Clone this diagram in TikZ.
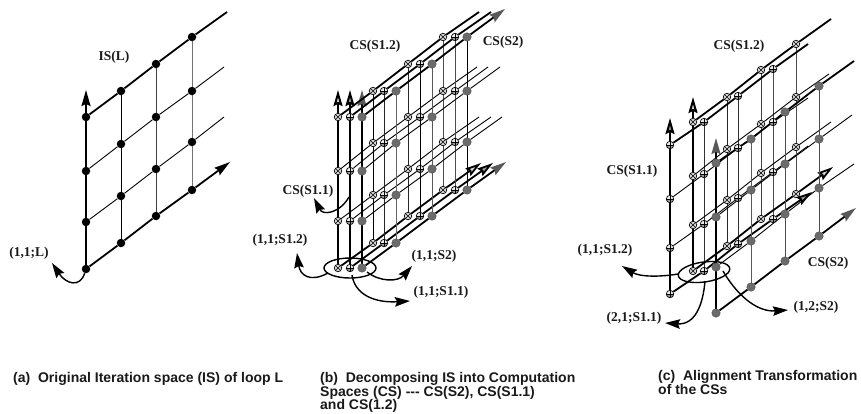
\documentclass[tikz,border=0pt]{standalone}
\usepackage{fontspec}
\setmainfont{Liberation Serif}
\newfontfamily\capfont{Liberation Sans}
\usetikzlibrary{arrows.meta,shapes.geometric}
\pgfdeclarelayer{bg}
\pgfsetlayers{bg,main}
\definecolor{greymark}{gray}{0.42}
\tikzset{
  basemark/.style={circle,inner sep=0pt,minimum size=7.5bp,line width=0.7bp,draw=black},
  solidmark/.style={circle,inner sep=0pt,minimum size=8.5bp,fill=black},
  crossmark/.style={basemark,fill=black!15,path picture={
    \draw[line width=0.5bp] (path picture bounding box.north west)--(path picture bounding box.south east)
      (path picture bounding box.north east)--(path picture bounding box.south west);}},
  platemark/.style={basemark,fill=black!8,path picture={
    \fill[black!40] (path picture bounding box.west) rectangle (path picture bounding box.south east);
    \draw[line width=0.5bp] (path picture bounding box.west)--(path picture bounding box.east)
      (path picture bounding box.north)--(path picture bounding box.south);}},
  greyfill/.style={circle,inner sep=0pt,minimum size=8.5bp,fill=greymark,draw=black!70,line width=0.4bp},
  thickline/.style={line width=1.8bp,black},
  thinline/.style={line width=0.9bp,black},
  columnline/.style={line width=1bp},
  axisline/.style={line width=2bp,black},
  tipblack/.style={-{Stealth[length=16bp,width=9bp,inset=2bp,fill=black]}},
  tipwhite/.style={-{Stealth[length=16bp,width=9bp,inset=2bp,fill=black!15]}},
  tipmid/.style={-{Stealth[length=16bp,width=9bp,inset=2bp,fill=black!40]}},
  tipgrey/.style={-{Stealth[length=16bp,width=9bp,inset=2bp,color=black!65,fill=black!65]}},
  curvearrow/.style={line width=1.4bp,black,-{Stealth[length=15bp,width=9.5bp,inset=2bp,fill=black]}},
  lab/.style={font=\fontsize{13.5bp}{15bp}\selectfont\bfseries,inner sep=0pt,text=black!90},
  caption/.style={font=\fontsize{14bp}{13.8bp}\capfont\bfseries,inner sep=0pt,align=left,anchor=north west,text=black!90},
  ring/.style={ellipse,draw=black,line width=1.4bp,minimum width=52bp,minimum height=20bp,inner sep=0pt},
}
% #1 prefix, #2 mark style, #3 list col/x/y0/y1/y2/y3
\newcommand\latmarks[3]{%
  \foreach \c/\x/\ya/\yb/\yd/\ye in {#3}{%
    \node[#2] (#1-\c-0) at (\x,\ya) {};
    \node[#2] (#1-\c-1) at (\x,\yb) {};
    \node[#2] (#1-\c-2) at (\x,\yd) {};
    \node[#2] (#1-\c-3) at (\x,\ye) {};
  }}
% #1 prefix, #2 col1 colour, #3 col2 colour, #4 col3 colour, #5 tip style
\newcommand\latlines[5]{%
  \begin{pgfonlayer}{bg}
  \draw[columnline,#2] (#1-1-0)--(#1-1-1)--(#1-1-2)--(#1-1-3);
  \draw[columnline,#3] (#1-2-0)--(#1-2-1)--(#1-2-2)--(#1-2-3);
  \draw[columnline,#4] (#1-3-0)--(#1-3-1)--(#1-3-2)--(#1-3-3);
  \draw[axisline] (#1-0-0)--(#1-0-1)--(#1-0-2)--(#1-0-3);
  \draw[axisline,#5] (#1-0-0)--(#1-up);
  \draw[thinline] (#1-0-1)--(#1-1-1)--(#1-2-1)--(#1-3-1)--(#1-e1);
  \draw[thinline] (#1-0-2)--(#1-1-2)--(#1-2-2)--(#1-3-2)--(#1-e2);
  \draw[thickline,#5] (#1-0-3)--(#1-1-3)--(#1-2-3)--(#1-3-3)--(#1-e3);
  \end{pgfonlayer}}
\begin{document}
\begin{tikzpicture}[x=1bp,y=-1bp]
\useasboundingbox (0,0) rectangle (861,413);
% ---------- panel a
\latmarks{a}{solidmark}{0/86/117/171/222/269,1/121/91/144/196/243,2/156/64/117/169/216,3/192/37/91/142/190}
\coordinate (a-up) at (86,90);
\coordinate (a-e0) at (227,12);
\coordinate (a-e1) at (224,67);
\coordinate (a-e2) at (224,117);
\coordinate (a-e3) at (230,162);
\latlines{a}{black}{black!75}{black!55}{tipblack}
\begin{pgfonlayer}{bg}
\draw[thickline] (a-0-0)--(a-1-0)--(a-2-0)--(a-3-0)--(a-e0);
\end{pgfonlayer}
\node[lab] (isl) at (114,57) {IS(L)};
\node[lab] (la) at (29,253) {(1,1;L)};
\coordinate (a-tip) at (52,263);
\draw[curvearrow] (a-0-3) .. controls (80,288) and (66,284) .. (a-tip);
% ---------- panel b
\latmarks{ba}{crossmark}{0/338/117/171/221/268,1/373/91/143/195/243,2/408/64/117/169/216,3/443/37/91/142/190}
\latmarks{bb}{platemark}{0/350/117/171/221/268,1/384/91/143/195/243,2/420/64/117/169/216,3/455/37/91/142/190}
\latmarks{bc}{greyfill}{0/362/117/171/221/268,1/396/91/143/195/243,2/432/64/117/169/216,3/467/37/91/142/190}
\coordinate (ba-up) at (338,90); \coordinate (bb-up) at (350,90); \coordinate (bc-up) at (362,90);
\coordinate (ba-e0) at (479,12); \coordinate (bb-e0) at (491,12); \coordinate (bc-e0) at (505,9);
\coordinate (ba-e1) at (477,67); \coordinate (bb-e1) at (488,67); \coordinate (bc-e1) at (500,67);
\coordinate (ba-e2) at (479,117); \coordinate (bb-e2) at (491,117); \coordinate (bc-e2) at (502,117);
\coordinate (ba-e3) at (481,163); \coordinate (bb-e3) at (493,163); \coordinate (bc-e3) at (506,162);
\latlines{ba}{black}{black!85}{black!70}{tipwhite}
\latlines{bb}{black!85}{black}{black!70}{tipmid}
\latlines{bc}{black!60}{black!65}{black}{tipgrey}
\begin{pgfonlayer}{bg}
\draw[thickline] (ba-0-0)--(ba-1-0)--(ba-2-0)--(ba-3-0)--(ba-e0);
\draw[thickline] (bb-0-0)--(bb-1-0)--(bb-2-0)--(bb-3-0)--(bb-e0);
\draw[thickline,tipgrey] (bc-0-0)--(bc-1-0)--(bc-2-0)--(bc-3-0)--(bc-e0);
\end{pgfonlayer}
\node[ring] (bring) at (350,268) {};
\node[lab] (bl12) at (375,46) {CS(S1.2)};
\node[lab] (bl2) at (503,42) {CS(S2)};
\node[lab] (bl11) at (308,191) {CS(S1.1)};
\node[lab] (bp12) at (280,240) {(1,1;S1.2)};
\node[lab] (bp2) at (434,256) {(1,1;S2)};
\node[lab] (bp11) at (441,292) {(1,1;S1.1)};
\coordinate (bs1) at (349,197); \coordinate (bt1) at (314,198);
\coordinate (bs2) at (328,273); \coordinate (bt2) at (297,253);
\coordinate (bs3) at (367,272); \coordinate (bt3) at (412,266);
\coordinate (bs4) at (352,275); \coordinate (bt4) at (410,301);
\draw[curvearrow] (bs1) .. controls (340,213) and (323,216) .. (bt1);
\draw[curvearrow] (bs2) .. controls (310,283) and (300,275) .. (bt2);
\draw[curvearrow] (bs3) .. controls (380,282) and (398,282) .. (bt3);
\draw[curvearrow] (bs4) .. controls (355,295) and (375,303) .. (bt4);
% ---------- panel c
\latmarks{cb}{platemark}{0/670/145/199/248/294,1/704/122/174/224/271,2/738/96/148/198/244,3/773/69/122/172/219}
\latmarks{ca}{crossmark}{0/693/122/176/225/271,1/727/97/149/200/246,2/761/70/124/173/219,3/796/44/97/147/194}
\latmarks{cc}{greyfill}{0/716/163/217/267/313,1/751/139/190/241/287,2/785/112/164/214/261,3/819/86/139/188/236}
\coordinate (cb-up) at (670,118); \coordinate (ca-up) at (693,97); \coordinate (cc-up) at (716,138);
\coordinate (ca-e0) at (831,19); \coordinate (cb-e0) at (808,44); \coordinate (cc-e0) at (854,61);
\coordinate (ca-e1) at (829,74); \coordinate (cb-e1) at (808,98); \coordinate (cc-e1) at (852,115);
\coordinate (ca-e2) at (831,122); \coordinate (cb-e2) at (808,146); \coordinate (cc-e2) at (854,164);
\coordinate (ca-e3) at (833,167); \coordinate (cb-e3) at (812,192); \coordinate (cc-e3) at (856,208);
\latlines{cb}{black!80}{black!80}{black!70}{tipmid}
\latlines{ca}{black!85}{black!75}{black!70}{tipwhite}
\latlines{cc}{black!65}{black!70}{black!70}{tipgrey}
\begin{pgfonlayer}{bg}
\draw[thickline] (ca-0-0)--(ca-1-0)--(ca-2-0)--(ca-3-0)--(ca-e0);
\draw[thickline] (cb-0-0)--(cb-1-0)--(cb-2-0)--(cb-3-0)--(cb-e0);
\draw[thickline] (cc-0-0)--(cc-1-0)--(cc-2-0)--(cc-3-0)--(cc-e0);
\end{pgfonlayer}
\node[ring,rotate=8] (cring) at (704,272) {};
\node[lab] (cl12) at (739,46) {CS(S1.2)};
\node[lab] (cl11) at (632,171) {CS(S1.1)};
\node[lab] (cl2) at (828,263) {CS(S2)};
\node[lab] (cp12) at (605,250) {(1,1;S1.2)};
\node[lab] (cp11) at (634,318) {(2,1;S1.1)};
\node[lab] (cp2) at (816,307) {(1,2;S2)};
\coordinate (cs1) at (678,274); \coordinate (ct1) at (622,266);
\coordinate (cs2) at (705,281); \coordinate (ct2) at (665,323);
\coordinate (cs3) at (723,271); \coordinate (ct3) at (788,310);
\draw[curvearrow] (cs1) .. controls (660,277) and (640,277) .. (ct1);
\draw[curvearrow] (cs2) .. controls (703,305) and (695,325) .. (ct2);
\draw[curvearrow] (cs3) .. controls (740,300) and (760,312) .. (ct3);
% ---------- captions
\node[caption] (capa) at (13,372) {(a)\ \ Original Iteration space (IS) of loop L};
\node[caption] (capb) at (320,372) {(b)\ \ Decomposing IS into Computation\\Spaces (CS) --- CS(S2), CS(S1.1)\\and CS(1.2)};
\node[caption] (capc) at (658,370) {(c)\ \ Alignment Transformation\\of the CSs};
\end{tikzpicture}
\end{document}
